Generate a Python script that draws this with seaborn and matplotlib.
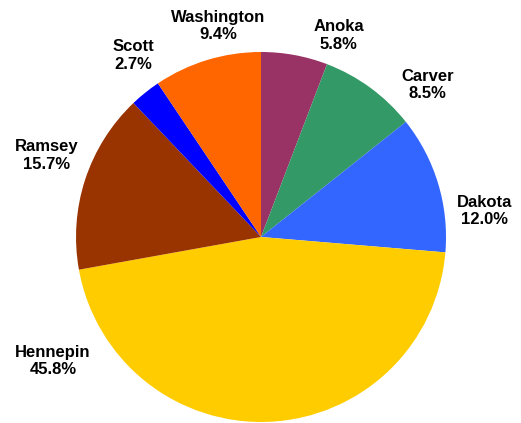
import matplotlib
matplotlib.use("Agg")
import matplotlib.pyplot as plt
import seaborn as sns

sns.set_theme(style="white")
plt.rcParams["font.family"] = ["Liberation Sans", "DejaVu Sans"]

# County shares of the total, clockwise from 12 o'clock
counties = ["Anoka", "Carver", "Dakota", "Hennepin", "Ramsey", "Scott", "Washington"]
shares = [5.8, 8.5, 12.0, 45.8, 15.7, 2.7, 9.4]
colors = ["#993366", "#339966", "#3366FF", "#FFCC00", "#993300", "#0000FF", "#FF6600"]

# Label anchor points (in units of the pie radius)
label_pos = [(0.42, 1.09), (0.90, 0.82), (1.21, 0.14), (-1.125, -0.67),
             (-1.16, 0.44), (-0.69, 0.98), (-0.23, 1.14)]

fig = plt.figure(figsize=(5.21, 4.23), dpi=100)
ax = fig.add_axes([0.1459, 0.0024, 0.7102, 0.8747])

wedges, _ = ax.pie(shares, colors=colors, startangle=90, counterclock=False,
                   radius=1.0, wedgeprops=dict(linewidth=0))

for name, val, (lx, ly) in zip(counties, shares, label_pos):
    ax.text(lx, ly, f"{name}\n{val:.1f}%", ha="center", va="center",
            fontsize=12, fontweight="bold", color="black", linespacing=1.2)

ax.set_xlim(-1, 1)
ax.set_ylim(-1, 1)
ax.set_aspect("equal")
ax.axis("off")

fig.savefig("out.png", dpi=100, facecolor="white")
